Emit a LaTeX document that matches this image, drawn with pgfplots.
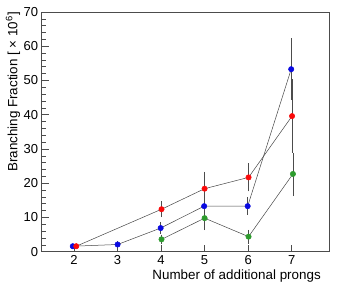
\documentclass[border=0pt]{standalone}
\usepackage{pgfplots}
\pgfplotsset{compat=1.18}
\usepackage{pgfplotstable}
\usepackage{fontspec}
\setmainfont{Liberation Sans}
\definecolor{cblue}{RGB}{10,10,225}
\definecolor{cred}{RGB}{250,10,10}
\definecolor{cgreen}{RGB}{45,155,45}
\definecolor{cline}{RGB}{70,70,70}
\pgfplotstableread{
x y ep em
1.97 1.6 0.3 0.3
3.00 2.1 0.6 0.6
3.99 6.9 1.3 1.3
4.99 13.3 3.7 2.7
5.99 13.3 2.2 2.2
6.99 53.3 8.7 8.6
}\tblblue
\pgfplotstableread{
x y ep em
2.05 1.6 0.2 0.2
4.01 12.4 1.9 1.9
5.00 18.4 4.5 4.4
6.01 21.7 3.8 3.7
7.01 39.6 10.4 10.3
}\tblred
\pgfplotstableread{
x y ep em
4.01 3.6 1.0 1.0
5.00 9.8 2.3 3.1
6.01 4.4 1.6 1.7
7.03 22.7 5.8 6.1
}\tblgreen
\pgfplotsset{series/.style={cline, line width=0.5pt, mark=*, mark size=2.7pt,
  mark options={draw=#1, fill=#1},
  error bars/.cd, y dir=both, y explicit,
  error bar style={black!70, line width=0.6pt},
  error mark options={black!70, mark size=1.3pt, line width=0.6pt}}}
\begin{document}
\begin{tikzpicture}
\begin{axis}[
  scale only axis, width=287.6pt, height=239.7pt,
  xmin=1.256, xmax=7.866, ymin=0, ymax=70,
  xtick={2,3,4,5,6,7}, ytick={0,10,...,70},
  minor y tick num=4,
  tick align=inside, tick pos=left,
  major tick length=7pt, minor tick length=4pt,
  axis line style={draw=black!70, line width=0.6pt},
  tick style={black!70, line width=0.6pt},
  /pgf/number format/assume math mode=true,
  ticklabel style={font=\fontsize{13}{15}\selectfont},
  label style={font=\fontsize{13.4}{15}\selectfont},
  xlabel={Number of additional prongs},
  ylabel={Branching Fraction [ × 10\textsuperscript{6}]},
  xlabel style={at={(axis description cs:0.971,-0.114)}, anchor=base east, inner sep=0pt},
  ylabel style={at={(axis description cs:-0.0998,1)}, anchor=east, inner sep=0pt},
  clip=false,
]
\addplot[series=cblue] table[x=x, y=y, y error plus=ep, y error minus=em] {\tblblue};
\addplot[series=cred] table[x=x, y=y, y error plus=ep, y error minus=em] {\tblred};
\addplot[series=cgreen] table[x=x, y=y, y error plus=ep, y error minus=em] {\tblgreen};
\end{axis}
\pgfresetboundingbox
\useasboundingbox ([xshift=-41.7pt,yshift=-39.3pt]current axis.south west) rectangle ([xshift=7.7pt,yshift=12pt]current axis.north east);
\end{tikzpicture}
\end{document}
